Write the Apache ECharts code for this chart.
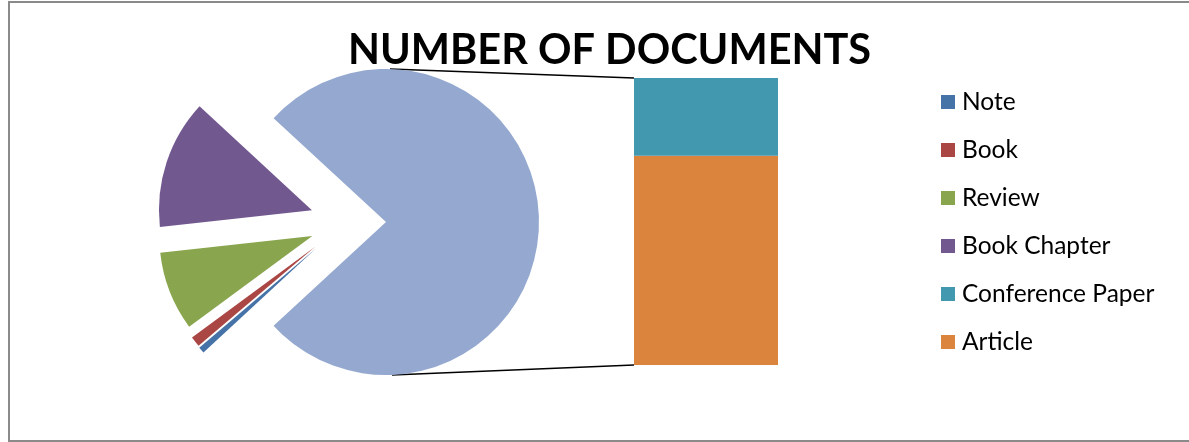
<!DOCTYPE html>
<html>
<head>
<meta charset="utf-8">
<script src="https://cdn.jsdelivr.net/npm/echarts@6/dist/echarts.min.js"></script>
<style>
  html, body { margin: 0; padding: 0; background: #ffffff; }
  #chart { width: 1189px; height: 442px; }
</style>
</head>
<body>
<div id="chart"></div>
<script>
// Document types and their counts
const categories = ['Note', 'Book', 'Review', 'Book Chapter', 'Conference Paper', 'Article'];
const counts = [3, 5, 38, 62, 94, 253];
// Types shown as slices of the pie, and the ones broken out into the bar
const pieTypes = ['Note', 'Book', 'Review', 'Book Chapter'];
const barTypes = ['Article', 'Conference Paper'];
const titleText = 'NUMBER OF DOCUMENTS';

const colors = {
  'Note': '#4572A7',
  'Book': '#AA4643',
  'Review': '#89A54E',
  'Book Chapter': '#71588F',
  'Conference Paper': '#4198AF',
  'Article': '#DB843D'
};
const otherColor = '#95A9D0';

const valueOf = name => counts[categories.indexOf(name)];
const total = counts.reduce((a, b) => a + b, 0);
const otherSum = barTypes.reduce((a, n) => a + valueOf(n), 0);

// Pie geometry
const cx = 386, cy = 222, R = 153, explode = 75;
const otherDeg = otherSum / total * 360;
const norm = a => ((a % 360) + 360) % 360;

const series = [];

// Combined slice that feeds the bar, pointing right
series.push({
  type: 'pie', center: [cx, cy], radius: R, startAngle: norm(otherDeg / 2),
  clockwise: true, silent: true, label: { show: false }, labelLine: { show: false },
  data: [
    { name: 'Other', value: otherSum, itemStyle: { color: otherColor } },
    { name: '_rest', value: total - otherSum, itemStyle: { color: 'rgba(0,0,0,0)' } }
  ]
});

// Exploded small slices, continuing clockwise from the combined slice
let a = -otherDeg / 2;
pieTypes.forEach(name => {
  const v = valueOf(name);
  const deg = v / total * 360;
  const bis = norm(a - deg / 2);
  const dir = (180 + (bis - 180) * 0.5) * Math.PI / 180;
  series.push({
    type: 'pie', name: name,
    center: [cx + explode * Math.cos(dir), cy - explode * Math.sin(dir)],
    radius: R, startAngle: norm(a), clockwise: true, silent: true,
    label: { show: false }, labelLine: { show: false },
    data: [
      { name: name, value: v, itemStyle: { color: colors[name] } },
      { name: '_rest', value: total - v, itemStyle: { color: 'rgba(0,0,0,0)' } }
    ]
  });
  a -= deg;
});

// Stacked bar of the broken-out types
barTypes.forEach(name => {
  series.push({
    type: 'bar', name: name, stack: 'other', barWidth: '100%',
    xAxisIndex: 0, yAxisIndex: 0, silent: true,
    itemStyle: { color: colors[name] },
    data: [valueOf(name)]
  });
});

const chart = echarts.init(document.getElementById('chart'), null, { renderer: 'canvas' });

const border = {
  id: 'frame', type: 'rect', silent: true,
  shape: { x: 9, y: 2, width: 1200, height: 439 },
  style: { fill: 'none', stroke: '#8a8a8a', lineWidth: 2 }
};

chart.setOption({
  animation: false,
  backgroundColor: '#ffffff',
  title: {
    text: titleText, left: 343, top: 25,
    textStyle: { fontFamily: 'Lato', fontWeight: 'bold', fontSize: 41.5, color: '#000000' }
  },
  legend: {
    orient: 'vertical', left: 936, top: 84,
    itemWidth: 14, itemHeight: 14, itemGap: 22, icon: 'rect',
    data: categories.map(n => ({ name: n, itemStyle: { color: colors[n] } })),
    textStyle: { fontFamily: 'Lato', fontSize: 24.5, color: '#000000', lineHeight: 26, padding: [0, 0, 0, 2] },
    selectedMode: false
  },
  grid: { left: 634, top: 78, width: 144, height: 287, containLabel: false },
  xAxis: { type: 'category', data: ['Other'], show: false },
  yAxis: { type: 'value', min: 0, max: otherSum, show: false, splitLine: { show: false } },
  series: series,
  graphic: { elements: [border] }
});

// Series lines joining the combined slice to the bar
const rect = chart.getModel().getComponent('grid', 0).coordinateSystem.getRect();
chart.setOption({
  graphic: {
    elements: [
      border,
      { id: 'lineTop', type: 'line', silent: true,
        shape: { x1: cx + 4, y1: cy - R, x2: rect.x, y2: rect.y },
        style: { stroke: '#000000', lineWidth: 1.5 } },
      { id: 'lineBottom', type: 'line', silent: true,
        shape: { x1: cx + 6, y1: cy + R, x2: rect.x, y2: rect.y + rect.height },
        style: { stroke: '#000000', lineWidth: 1.5 } }
    ]
  }
});
</script>
</body>
</html>
